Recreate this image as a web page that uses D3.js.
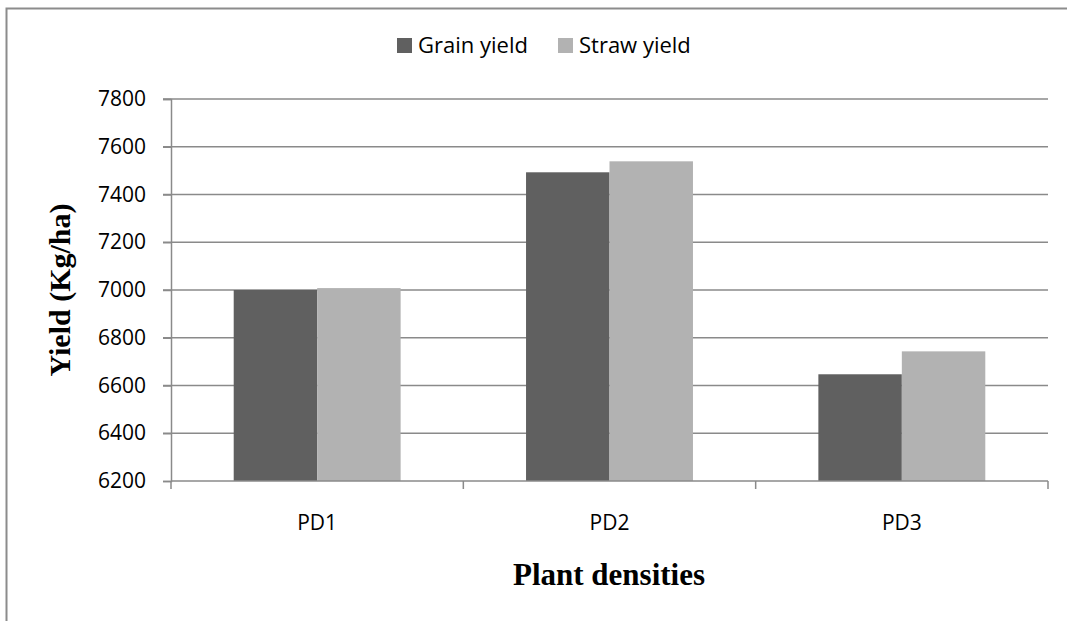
<!DOCTYPE html>
<html>
<head>
<meta charset="utf-8">
<script src="https://cdn.jsdelivr.net/npm/d3@7"></script>
<style>
  html, body { margin: 0; padding: 0; background: #fff; overflow: hidden; }
  svg { display: block; }
</style>
</head>
<body>
<svg id="chart" width="1067" height="621"></svg>
<script>
const categories = ["PD1", "PD2", "PD3"];
const seriesNames = ["Grain yield", "Straw yield"];
const grainYield = [7000, 7493, 6647];
const strawYield = [7008, 7539, 6743];
const yTicks = [6200, 6400, 6600, 6800, 7000, 7200, 7400, 7600, 7800];
const colors = ["#606060", "#b2b2b2"];

const svg = d3.select("#chart");
const W = 1067, H = 621;

// outer frame: only left and top edges are visible in the picture
svg.append("path")
  .attr("d", `M6.5,${H + 5} L6.5,8.5 L${W + 5},8.5`)
  .attr("fill", "none").attr("stroke", "#8c8c8c").attr("stroke-width", 2);

const m = { left: 171, right: 1048, top: 99, bottom: 481 };

const x0 = d3.scaleBand().domain(categories).range([m.left, m.right]).paddingInner(0).paddingOuter(0);
const groupW = x0.bandwidth() * 0.571;
const x1 = d3.scaleBand().domain(seriesNames).range([0, groupW]).padding(0);
const y = d3.scaleLinear().domain([6200, 7800]).range([m.bottom, m.top]);

const tickFont = "'Open Sans', 'Noto Sans', sans-serif";

// gridlines
svg.append("g").selectAll("line").data(yTicks.filter(d => d !== 6200)).join("line")
  .attr("x1", m.left - 8).attr("x2", m.right)
  .attr("y1", d => y(d)).attr("y2", d => y(d))
  .attr("stroke", "#8a8a8a").attr("stroke-width", 1.5);

// bars
const data = categories.map((c, i) => ({ cat: c, vals: [grainYield[i], strawYield[i]] }));
const groups = svg.append("g").selectAll("g").data(data).join("g")
  .attr("transform", d => `translate(${x0(d.cat) + (x0.bandwidth() - groupW) / 2},0)`);
groups.selectAll("rect").data(d => d.vals.map((v, j) => ({ name: seriesNames[j], v, j }))).join("rect")
  .attr("x", d => x1(d.name))
  .attr("width", x1.bandwidth())
  .attr("y", d => y(d.v))
  .attr("height", d => y(6200) - y(d.v))
  .attr("fill", d => colors[d.j]);

// y axis
const yAxis = d3.axisLeft(y).tickValues(yTicks).tickSize(8).tickPadding(17).tickFormat(d3.format("d"));
const gy = svg.append("g").attr("transform", `translate(${m.left},0)`).call(yAxis);
gy.select(".domain").attr("stroke", "#8a8a8a").attr("stroke-width", 1.5);
gy.selectAll(".tick line").attr("stroke", "#8a8a8a").attr("stroke-width", 1.5);
gy.selectAll(".tick text").attr("font-family", tickFont).attr("font-size", 21).attr("fill", "#000");

// x axis line and boundary ticks
svg.append("line").attr("x1", m.left).attr("x2", m.right)
  .attr("y1", m.bottom).attr("y2", m.bottom)
  .attr("stroke", "#8a8a8a").attr("stroke-width", 1.5);
const bounds = categories.map(c => x0(c)).concat([m.right]);
svg.append("g").selectAll("line").data(bounds).join("line")
  .attr("x1", d => d).attr("x2", d => d)
  .attr("y1", m.bottom).attr("y2", m.bottom + 8)
  .attr("stroke", "#8a8a8a").attr("stroke-width", 1.5);
svg.append("g").selectAll("text").data(categories).join("text")
  .attr("x", d => x0(d) + x0.bandwidth() / 2)
  .attr("y", 530)
  .attr("text-anchor", "middle")
  .attr("font-family", tickFont).attr("font-size", 21).attr("fill", "#000")
  .text(d => d);

// axis titles
svg.append("text")
  .attr("transform", "translate(70,290) rotate(-90)")
  .attr("text-anchor", "middle")
  .attr("font-family", "'Liberation Serif', 'Times New Roman', serif")
  .attr("font-weight", "bold").attr("font-size", 30)
  .text("Yield (Kg/ha)");
svg.append("text")
  .attr("x", 609).attr("y", 585)
  .attr("text-anchor", "middle")
  .attr("font-family", "'Liberation Serif', 'Times New Roman', serif")
  .attr("font-weight", "bold").attr("font-size", 31)
  .text("Plant densities");

// legend
const legend = svg.append("g");
const legendItems = [{ name: seriesNames[0], x: 397 }, { name: seriesNames[1], x: 558 }];
legendItems.forEach((it, i) => {
  legend.append("rect").attr("x", it.x).attr("y", 38).attr("width", 15).attr("height", 15).attr("fill", colors[i]);
  legend.append("text").attr("x", it.x + 21).attr("y", 53)
    .attr("font-family", tickFont).attr("font-size", 22).attr("fill", "#000")
    .text(it.name);
});
</script>
</body>
</html>
